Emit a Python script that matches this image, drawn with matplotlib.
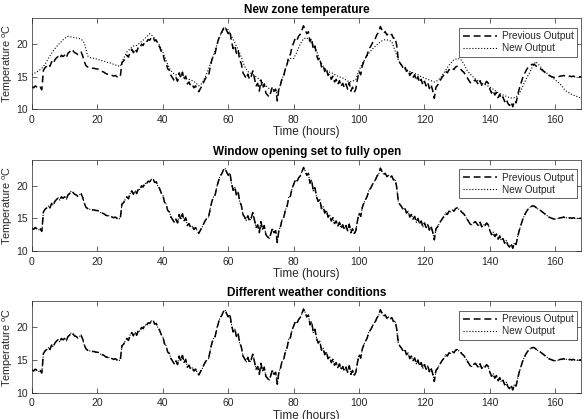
import numpy as np
import matplotlib
matplotlib.use("Agg")
import matplotlib.pyplot as plt
from matplotlib.lines import Line2D

plt.rcParams["font.family"] = ["Liberation Sans", "DejaVu Sans"]
plt.rcParams["mathtext.fontset"] = "custom"
plt.rcParams["mathtext.rm"] = "Liberation Sans"

# %%
## data (previous output every 0.5 h, new output hourly)
hours_prev = np.arange(0, 168.5, 0.5)
previous = [
    13.5, 13.3, 13.6, 13.4, 13.2, 13.4, 13.0, 16.0, 16.4, 16.6, 16.9, 16.6, 17.3, 17.0, 17.6, 17.9, 18.1, 17.8, 18.3, 18.1, 18.3, 17.9, 18.6, 18.8,
    19.2, 19.0, 18.7, 18.6, 18.4, 18.6, 18.8, 18.2, 17.3, 16.7, 16.5, 16.4, 16.4, 16.3, 16.3, 16.2, 16.2, 16.1, 15.9, 15.8, 15.7, 15.5, 15.4, 15.4,
    15.3, 15.2, 15.1, 15.2, 15.0, 14.9, 15.0, 17.2, 17.4, 17.9, 18.3, 18.0, 18.8, 19.2, 18.7, 19.3, 18.8, 19.5, 19.4, 20.0, 19.8, 20.4, 20.3, 20.7,
    20.6, 21.0, 21.1, 20.5, 20.6, 19.9, 19.6, 18.9, 18.6, 17.5, 17.2, 16.2, 16.0, 15.2, 14.8, 14.4, 14.9, 14.3, 15.6, 14.8, 15.7, 14.6, 15.1, 13.9,
    14.2, 13.6, 13.8, 13.3, 13.6, 13.1, 12.7, 13.2, 13.6, 14.2, 14.7, 15.0, 15.2, 16.5, 17.6, 18.3, 18.6, 19.8, 20.7, 21.5, 21.8, 22.4, 22.7, 22.1,
    21.6, 22.0, 20.4, 19.3, 19.8, 18.6, 19.1, 17.6, 17.0, 15.6, 15.2, 14.7, 15.4, 14.6, 15.0, 15.9, 14.8, 13.6, 14.0, 12.8, 14.5, 13.2, 13.9, 12.5,
    12.2, 11.9, 12.6, 13.5, 12.8, 13.1, 11.3, 13.2, 13.8, 14.9, 15.2, 16.3, 16.9, 18.2, 18.4, 19.6, 20.2, 20.9, 20.6, 21.2, 21.5, 22.1, 22.8, 22.3,
    21.6, 21.9, 20.4, 20.9, 19.2, 19.7, 18.3, 17.6, 17.9, 16.5, 16.8, 15.8, 16.3, 15.2, 15.5, 14.6, 15.1, 14.2, 14.6, 13.8, 14.4, 13.5, 14.0, 13.3,
    13.9, 13.1, 14.1, 12.8, 13.4, 12.6, 13.1, 14.6, 15.8, 15.3, 16.7, 17.4, 17.9, 18.4, 19.3, 19.6, 20.1, 20.6, 20.9, 21.5, 21.8, 22.7, 22.2, 21.7,
    21.9, 21.4, 21.6, 21.3, 21.5, 20.9, 21.0, 19.8, 17.6, 17.1, 16.8, 16.3, 16.6, 15.8, 16.1, 15.2, 15.6, 14.9, 15.3, 14.4, 15.0, 14.1, 14.6, 13.7,
    14.3, 13.6, 14.1, 13.2, 13.8, 12.9, 11.7, 13.4, 13.7, 14.2, 14.6, 15.0, 15.3, 15.8, 15.6, 16.1, 16.0, 16.3, 16.1, 16.5, 16.6, 16.4, 16.2, 15.9,
    15.7, 15.3, 14.9, 14.5, 14.1, 14.0, 14.3, 14.5, 14.2, 13.8, 14.4, 13.7, 14.1, 13.9, 14.3, 14.0, 13.1, 12.5, 12.9, 12.2, 12.6, 11.8, 12.3, 11.6,
    11.9, 11.2, 11.6, 10.9, 10.6, 11.1, 10.4, 11.3, 11.0, 12.2, 13.2, 14.0, 14.8, 15.4, 15.9, 16.3, 16.6, 16.8, 16.9, 16.9, 16.7, 16.5, 16.3, 16.2,
    16.0, 15.8, 15.6, 15.4, 15.2, 15.1, 15.0, 14.9, 14.9, 14.9, 15.0, 15.1, 15.1, 15.2, 15.1, 15.1, 15.0, 15.1, 15.0, 15.1, 15.0, 15.0, 15.0, 15.0,
    15.0,
]

hours_new = np.arange(0, 169, 1)
new_zone = [
    15.3, 15.6, 15.9, 16.3, 16.9, 17.8, 18.6, 19.3, 19.9, 20.4, 20.9, 21.2,
    21.1, 21.0, 20.9, 20.8, 20.2, 18.2, 17.9, 17.8, 17.7, 17.5, 17.4, 17.2,
    17.1, 16.9, 16.7, 16.6, 17.8, 18.8, 19.3, 19.7, 19.8, 20.2, 20.6, 21.1,
    21.6, 21.2, 20.6, 19.8, 18.8, 17.5, 16.3, 15.6, 15.3, 15.4, 15.0, 14.8,
    14.6, 14.4, 14.1, 13.6, 14.0, 15.0, 16.2, 17.6, 19.0, 20.6, 21.8, 22.5,
    22.2, 21.2, 20.2, 19.2, 18.0, 16.6, 15.8, 15.5, 15.2, 14.8, 14.3, 13.9,
    13.4, 13.0, 12.7, 12.5, 13.8, 15.5, 17.0, 17.8, 17.8, 18.8, 20.0, 20.8,
    21.0, 20.4, 19.8, 19.0, 17.5, 16.6, 16.0, 15.7, 15.5, 15.2, 15.0, 14.8,
    14.5, 14.2, 14.3, 14.6, 16.0, 17.0, 17.9, 18.6, 19.2, 19.7, 20.1, 20.5,
    20.7, 20.6, 20.4, 19.0, 17.6, 16.6, 16.2, 15.9, 15.7, 15.5, 15.3, 15.0,
    14.8, 14.6, 14.4, 14.2, 14.4, 14.9, 15.6, 16.4, 17.1, 17.6, 17.8, 17.7,
    17.0, 16.0, 15.4, 14.9, 14.5, 14.2, 13.9, 13.7, 13.4, 13.1, 12.7, 12.4,
    12.2, 12.0, 11.8, 11.7, 11.9, 12.4, 13.5, 14.6, 15.5, 16.5, 17.3, 16.8,
    16.2, 15.7, 15.3, 14.9, 14.5, 14.1, 13.6, 12.9, 12.6, 12.3, 12.1, 11.9,
    11.7,
]

# window / weather runs give the same output as the previous model
window_open = list(previous)
weather = list(previous)

titles = [
    "New zone temperature",
    "Window opening set to fully open",
    "Different weather conditions",
]
new_series = [
    (hours_new, new_zone),
    (hours_prev, window_open),
    (hours_prev, weather),
]
xticks = list(range(0, 161, 20))
yticks = [10, 15, 20]

# %%
GREY = "#262626"
fig = plt.figure(figsize=(5.86, 4.19), dpi=100)
bottoms = [0.739, 0.401, 0.063]

for bottom, title, (t_new, y_new) in zip(bottoms, titles, new_series):
    ax = fig.add_axes([0.0546, bottom, 0.9377, 0.218])
    ax.plot(hours_prev, previous, color="black", lw=1.1, dashes=(4.5, 2.5))
    ax.plot(t_new, y_new, color="black", lw=0.8, ls=":")
    ax.set_xlim(0, 168)
    ax.set_ylim(10, 24)
    ax.set_xticks(xticks)
    ax.set_yticks(yticks)
    ax.tick_params(
        direction="in", top=True, right=True, length=3.5, width=0.5,
        labelsize=7.5, colors=GREY, pad=4,
    )
    ax.tick_params(axis="y", pad=3)
    for spine in ax.spines.values():
        spine.set_linewidth(0.5)
        spine.set_color(GREY)
    ax.set_title(title, fontsize=8.5, weight="bold", pad=3.5)
    ax.set_xlabel("Time (hours)", fontsize=8.5, color=GREY, labelpad=1)
    ax.set_ylabel("Temperature $^\\mathrm{o}$C", fontsize=7.8, color=GREY)
    ax.yaxis.set_label_coords(-0.031, 0.5)

    handles = [
        Line2D([], [], color="black", lw=1.1, dashes=(4.5, 2.5)),
        Line2D([], [], color="black", lw=0.8, ls=":"),
    ]
    leg = ax.legend(
        handles, ["Previous Output", "New Output"],
        loc="upper right", bbox_to_anchor=(0.992, 0.895), borderaxespad=0,
        fontsize=7.2, fancybox=False, framealpha=1, edgecolor=GREY,
        handlelength=3.4, handletextpad=0.5, borderpad=0.35, labelspacing=0.2,
    )
    leg.get_frame().set_linewidth(0.5)
    for txt in leg.get_texts():
        txt.set_color(GREY)

fig.savefig("out.png", dpi=100)
